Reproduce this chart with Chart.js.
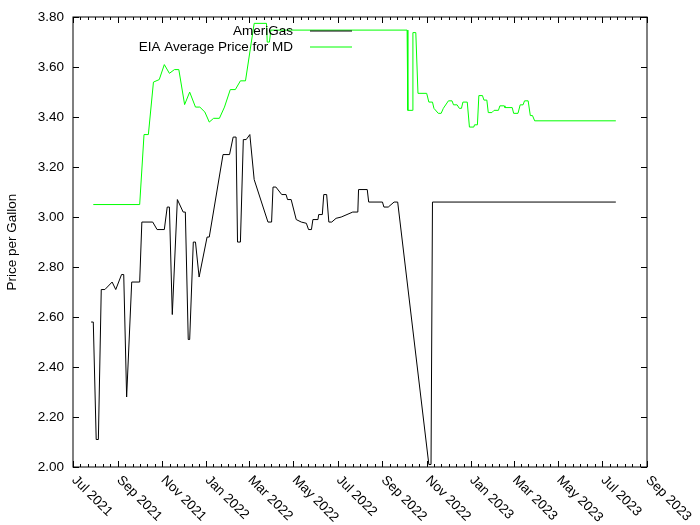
<!DOCTYPE html>
<html>
<head>
<meta charset="utf-8">
<script src="https://cdn.jsdelivr.net/npm/chart.js@4/dist/chart.umd.min.js"></script>
<style>
  html, body { margin: 0; padding: 0; background: #fff; }
  #wrap { width: 700px; height: 525px; }
</style>
</head>
<body>
<div id="wrap"><canvas id="c" width="700" height="525"></canvas></div>
<script>
// ---- data ----
const seriesNames = ['AmeriGas', 'EIA Average Price for MD'];

const amerigasDates = [
  '2021-07-26','2021-07-29','2021-08-02','2021-08-05','2021-08-09','2021-08-14','2021-08-24','2021-08-29',
  '2021-09-06','2021-09-09','2021-09-13','2021-09-20','2021-10-01','2021-10-04','2021-10-19','2021-10-25',
  '2021-11-04','2021-11-08','2021-11-11','2021-11-15','2021-11-22','2021-11-30','2021-12-03','2021-12-07',
  '2021-12-09','2021-12-14','2021-12-17','2021-12-22','2022-01-02','2022-01-05','2022-01-24','2022-02-02',
  '2022-02-07','2022-02-11','2022-02-13','2022-02-17','2022-02-21','2022-02-25','2022-03-02','2022-03-08',
  '2022-03-27','2022-04-01','2022-04-03','2022-04-07','2022-04-15','2022-04-21','2022-04-23','2022-04-28',
  '2022-05-05','2022-05-12','2022-05-19','2022-05-22','2022-05-26','2022-05-28','2022-06-04','2022-06-05',
  '2022-06-10','2022-06-12','2022-06-16','2022-06-19','2022-06-23','2022-06-29','2022-07-06','2022-07-22',
  '2022-07-29','2022-07-30','2022-08-11','2022-08-13','2022-09-01','2022-09-03','2022-09-09','2022-09-17',
  '2022-09-22','2022-11-04','2022-11-07','2022-11-09','2023-07-20'
];
const amerigasPrices = [
  2.58, 2.58, 2.11, 2.11, 2.71, 2.71, 2.74, 2.71,
  2.77, 2.77, 2.28, 2.74, 2.74, 2.98, 2.98, 2.95,
  2.95, 3.04, 3.04, 2.61, 3.07, 3.02, 3.02, 2.51,
  2.51, 2.90, 2.90, 2.76, 2.92, 2.92, 3.25, 3.25,
  3.32, 3.32, 2.90, 2.90, 3.31, 3.31, 3.33, 3.15,
  2.98, 2.98, 3.12, 3.12, 3.09, 3.09, 3.07, 3.07,
  2.99, 2.98, 2.975, 2.95, 2.95, 2.99, 2.99, 3.01,
  3.01, 3.09, 3.09, 2.98, 2.98, 2.995, 3.00, 3.02,
  3.02, 3.11, 3.11, 3.06, 3.06, 3.04, 3.04, 3.06,
  3.06, 2.01, 2.01, 3.06, 3.06
];

const eiaDates = [
  '2021-07-29','2021-10-01','2021-10-07','2021-10-13','2021-10-20','2021-10-28','2021-11-04','2021-11-11',
  '2021-11-18','2021-11-24','2021-12-02','2021-12-09','2021-12-17','2021-12-23','2021-12-30','2022-01-05',
  '2022-01-11','2022-01-19','2022-01-26','2022-02-03','2022-02-10','2022-02-17','2022-02-24','2022-03-08',
  '2022-03-25','2022-03-26','2022-03-29','2022-03-31','2022-10-05','2022-10-06','2022-10-12','2022-10-13',
  '2022-10-17','2022-10-20','2022-11-01','2022-11-04','2022-11-09','2022-11-11','2022-11-17','2022-11-21',
  '2022-11-24','2022-12-01','2022-12-06','2022-12-08','2022-12-13','2022-12-16','2022-12-19','2022-12-21',
  '2022-12-27','2022-12-30','2023-01-05','2023-01-06','2023-01-10','2023-01-12','2023-01-17','2023-01-19',
  '2023-01-23','2023-01-25','2023-01-30','2023-02-02','2023-02-08','2023-02-10','2023-02-16','2023-02-17',
  '2023-02-27','2023-03-01','2023-03-07','2023-03-10','2023-03-14','2023-03-16','2023-03-21','2023-03-24',
  '2023-03-27','2023-03-30','2023-07-20'
];
const eiaPrices = [
  3.05, 3.05, 3.33, 3.33, 3.54, 3.55, 3.61, 3.575,
  3.59, 3.59, 3.45, 3.50, 3.44, 3.44, 3.42, 3.38,
  3.395, 3.395, 3.44, 3.51, 3.51, 3.545, 3.545, 3.775,
  3.775, 3.70, 3.70, 3.748, 3.748, 3.427, 3.427, 3.738,
  3.738, 3.495, 3.495, 3.46, 3.46, 3.435, 3.415, 3.415,
  3.435, 3.465, 3.465, 3.449, 3.449, 3.435, 3.435, 3.46,
  3.46, 3.36, 3.36, 3.369, 3.369, 3.486, 3.486, 3.468,
  3.468, 3.418, 3.418, 3.427, 3.427, 3.445, 3.445, 3.438,
  3.438, 3.415, 3.415, 3.449, 3.449, 3.465, 3.465, 3.406,
  3.406, 3.385, 3.385
];

const xTickDates = ['2021-07-01','2021-09-01','2021-11-01','2022-01-01','2022-03-01','2022-05-01','2022-07-01',
  '2022-09-01','2022-11-01','2023-01-01','2023-03-01','2023-05-01','2023-07-01','2023-09-01'];
const xTickLabels = ['Jul 2021','Sep 2021','Nov 2021','Jan 2022','Mar 2022','May 2022','Jul 2022',
  'Sep 2022','Nov 2022','Jan 2023','Mar 2023','May 2023','Jul 2023','Sep 2023'];
const yTickValues = [2.00, 2.20, 2.40, 2.60, 2.80, 3.00, 3.20, 3.40, 3.60, 3.80];
const yAxisTitle = 'Price per Gallon';

// ---- helpers ----
const ORIGIN = Date.UTC(2021, 6, 1);
function toDay(s) {
  const p = s.split('-').map(Number);
  return (Date.UTC(p[0], p[1] - 1, p[2]) - ORIGIN) / 86400000;
}
function pts(dates, vals) { return dates.map((d, i) => ({ x: toDay(d), y: vals[i] })); }

const FONT = '"Liberation Sans", Arial, sans-serif';
const FS = 13.5;
const seriesColors = ['#000000', '#00ff00'];

const framePlugin = {
  id: 'gnuframe',
  afterDraw(chart) {
    const ctx = chart.ctx;
    const a = chart.chartArea;
    const xs = chart.scales.x, ys = chart.scales.y;
    const L = Math.round(a.left), R = Math.round(a.right);
    const T = Math.round(a.top), B = Math.round(a.bottom);
    ctx.save();
    ctx.strokeStyle = '#000';
    ctx.lineWidth = 1;
    ctx.beginPath();
    // y ticks
    yTickValues.forEach(v => {
      const y = Math.round(ys.getPixelForValue(v)) + 0.5;
      ctx.moveTo(L, y); ctx.lineTo(L + 6, y);
      ctx.moveTo(R, y); ctx.lineTo(R - 6, y);
    });
    // x ticks (major + minor)
    const days = xTickDates.map(toDay);
    days.forEach((d, i) => {
      const x = Math.round(xs.getPixelForValue(d)) + 0.5;
      ctx.moveTo(x, B); ctx.lineTo(x, B - 6);
      ctx.moveTo(x, T); ctx.lineTo(x, T + 6);
      if (i < days.length - 1) {
        for (let k = 1; k < 6; k++) {
          const dm = d + (days[i + 1] - d) * k / 6;
          const xm = Math.round(xs.getPixelForValue(dm)) + 0.5;
          ctx.moveTo(xm, B); ctx.lineTo(xm, B - 3);
          ctx.moveTo(xm, T); ctx.lineTo(xm, T + 3);
        }
      }
    });
    ctx.stroke();
    ctx.strokeRect(L, T, R - L, B - T);

    // x labels rotated
    ctx.fillStyle = '#000';
    ctx.font = FS + 'px ' + FONT;
    ctx.textAlign = 'left';
    ctx.textBaseline = 'middle';
    days.forEach((d, i) => {
      const x = xs.getPixelForValue(d);
      ctx.save();
      ctx.translate(x + 1, a.bottom + 11);
      ctx.rotate(Math.PI / 4);
      ctx.fillText(xTickLabels[i], 0, 0);
      ctx.restore();
    });

    // legend (gnuplot style: right-justified text, sample on the right)
    seriesNames.forEach((name, i) => {
      const y = 31 + i * 16;
      ctx.textAlign = 'right';
      ctx.fillStyle = '#000';
      ctx.fillText(name, 293, y);
      ctx.strokeStyle = seriesColors[i];
      ctx.lineWidth = 1.2;
      ctx.beginPath();
      ctx.moveTo(310, y); ctx.lineTo(352, y);
      ctx.stroke();
    });
    ctx.restore();
  }
};

new Chart(document.getElementById('c'), {
  type: 'line',
  data: {
    datasets: [
      { label: seriesNames[0], data: pts(amerigasDates, amerigasPrices), borderColor: seriesColors[0],
        borderWidth: 1, pointRadius: 0, tension: 0, fill: false },
      { label: seriesNames[1], data: pts(eiaDates, eiaPrices), borderColor: seriesColors[1],
        borderWidth: 1, pointRadius: 0, tension: 0, fill: false }
    ]
  },
  options: {
    responsive: false,
    animation: false,
    devicePixelRatio: 1,
    layout: { padding: { left: 0, right: 53, top: 16, bottom: 58 } },
    plugins: { legend: { display: false }, tooltip: { enabled: false } },
    scales: {
      x: {
        type: 'linear',
        min: toDay(xTickDates[0]),
        max: toDay(xTickDates[xTickDates.length - 1]),
        display: false
      },
      y: {
        type: 'linear',
        min: yTickValues[0],
        max: yTickValues[yTickValues.length - 1],
        afterBuildTicks: s => { s.ticks = yTickValues.map(v => ({ value: v })); },
        afterFit: s => { s.width = 73; },
        grid: { display: false, drawTicks: false },
        border: { display: false },
        ticks: {
          padding: 9,
          color: '#000',
          font: { family: FONT, size: FS },
          callback: v => Number(v).toFixed(2)
        },
        title: {
          display: true,
          text: yAxisTitle,
          color: '#000',
          font: { family: FONT, size: FS },
          padding: { top: 4, bottom: 0 }
        }
      }
    }
  },
  plugins: [framePlugin]
});
</script>
</body>
</html>
